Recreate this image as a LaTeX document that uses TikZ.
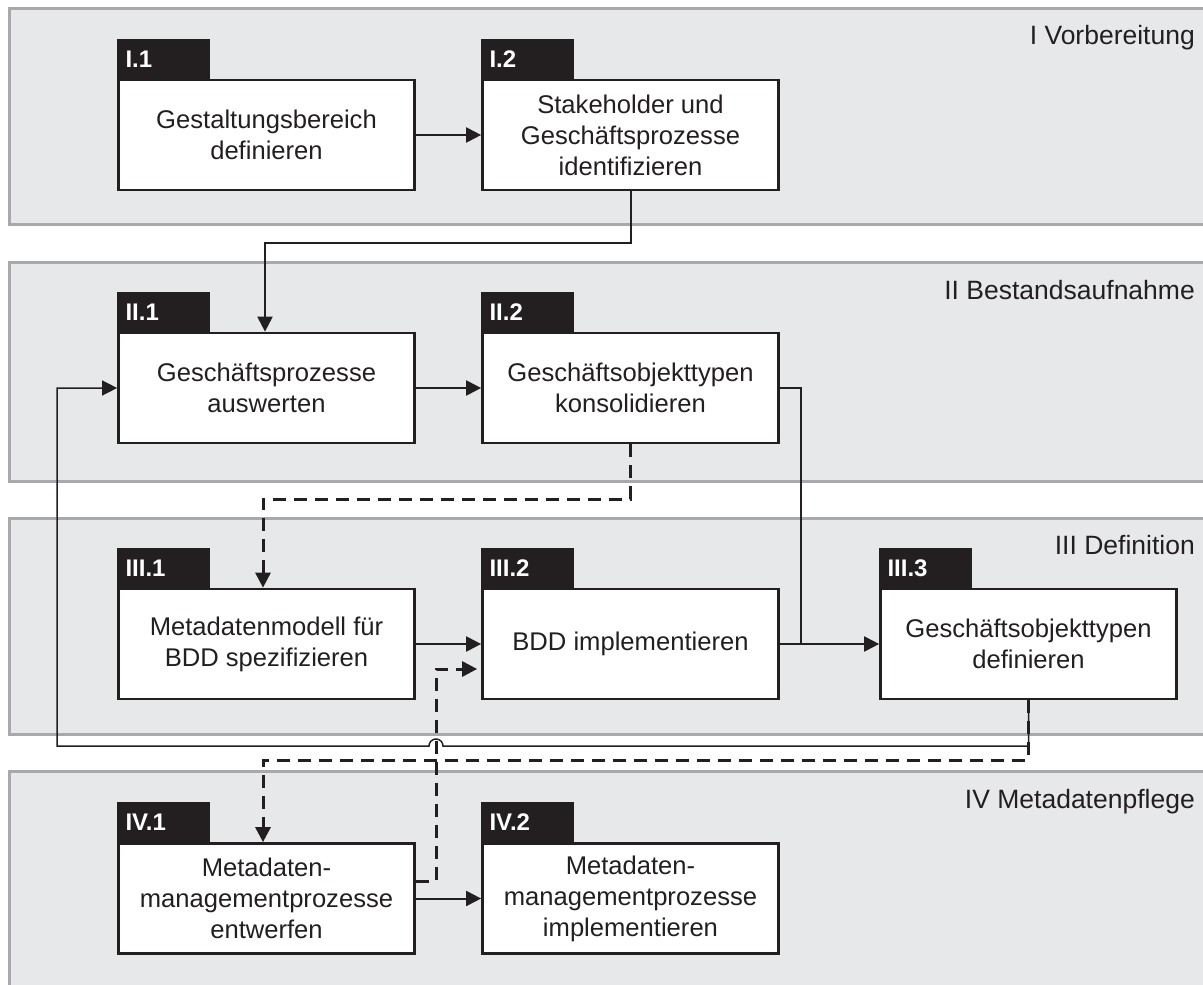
\documentclass[tikz,border=0pt]{standalone}
\usepackage{fontspec}
\setmainfont{Liberation Sans}
\usetikzlibrary{arrows.meta}
\definecolor{ink}{HTML}{231F20}
\definecolor{panelfill}{HTML}{E7E8EA}
\definecolor{panelline}{HTML}{A7A9AC}
\tikzset{
  panel/.style={fill=panelfill},
  panelrim/.style={draw=panelline, line width=3pt},
  phase/.style={anchor=base east, inner sep=0pt, text=ink, font=\fontsize{26.5}{30}\selectfont},
  stepbox/.style={draw=ink, fill=white, line width=2.7pt, minimum width=296pt, minimum height=110pt,
    align=center, text=ink, inner sep=0pt, font=\fontsize{25.6}{31}\selectfont},
  tab/.style={draw=ink, fill=ink, line width=2.7pt, anchor=south west, text width=76pt, align=left,
    minimum height=37pt, inner xsep=7pt, inner ysep=0pt, text=white,
    font=\bfseries\fontsize{24}{26}\selectfont},
  tip/.style={-{Triangle[length=15pt,width=15pt]}},
  flow/.style={draw=ink, line width=2pt, tip},
  thin/.style={draw=ink, line width=1.5pt},
  dashflow/.style={draw=ink, line width=3pt, dash pattern=on 13pt off 8pt, tip}
}
\begin{document}
\begin{tikzpicture}[x=1pt, y=-1pt]
\useasboundingbox (0,0) rectangle (1203,985);
\begin{scope}
\clip (0,0) rectangle (1203,985);
% phase panels
\fill[panel] (9,8) rectangle (1215,224);
\draw[panelrim] (1215,8) -- (9,8) -- (9,224) -- (1215,224);
\fill[panel] (9,262) rectangle (1215,481);
\draw[panelrim] (1215,262) -- (9,262) -- (9,481) -- (1215,481);
\fill[panel] (9,518) rectangle (1215,734);
\draw[panelrim] (1215,518) -- (9,518) -- (9,734) -- (1215,734);
\fill[panel] (9,771) rectangle (1215,995);
\draw[panelrim] (1215,771) -- (9,771) -- (9,995);
\end{scope}
\node[phase] (p1) at (1195,45) {I Vorbereitung};
\node[phase] (p2) at (1195,299) {II Bestandsaufnahme};
\node[phase] (p3) at (1195,554) {III Definition};
\node[phase] (p4) at (1195,808) {IV Metadatenpflege};

% process steps
\node[stepbox] (i1) at (266.5,135) {Gestaltungsbereich\\definieren};
\node[stepbox] (i2) at (630.5,135) {Stakeholder und\\Geschäftsprozesse\\identifizieren};
\node[stepbox] (ii1) at (266.5,388) {Geschäftsprozesse\\auswerten};
\node[stepbox] (ii2) at (630.5,388) {Geschäftsobjekttypen\\konsolidieren};
\node[stepbox] (iii1) at (266.5,644) {Metadatenmodell für\\BDD spezifizieren};
\node[stepbox] (iii2) at (630.5,644) {BDD implementieren};
\node[stepbox] (iii3) at (1028.5,644) {Geschäftsobjekttypen\\definieren};
\node[stepbox] (iv1) at (266.5,898.5) {Metadaten-\\managementprozesse\\entwerfen};
\node[stepbox] (iv2) at (630.5,898.5) {Metadaten-\\managementprozesse\\implementieren};

% number tabs
\node[tab] (t1) at (i1.north west) {I.1};
\node[tab] (t2) at (i2.north west) {I.2};
\node[tab] (t3) at (ii1.north west) {II.1};
\node[tab] (t4) at (ii2.north west) {II.2};
\node[tab] (t5) at (iii1.north west) {III.1};
\node[tab] (t6) at (iii2.north west) {III.2};
\node[tab] (t7) at (iii3.north west) {III.3};
\node[tab] (t8) at (iv1.north west) {IV.1};
\node[tab] (t9) at (iv2.north west) {IV.2};

% routing points
\coordinate (a1) at (630.5,243);
\coordinate (a2) at (265,243);
\coordinate (b1) at (801,388);
\coordinate (b2) at (801,644);
\coordinate (c1) at (1028.5,746);
\coordinate (c2) at (443,746);
\coordinate (c4) at (57,746);
\coordinate (c5) at (57,388);
\coordinate (d1) at (630.5,499);
\coordinate (d2) at (263,499);
\coordinate (e1) at (1028.5,760);
\coordinate (e2) at (263,760);
\coordinate (f1) at (436,881);
\coordinate (f2) at (436,669);

% solid connectors
\draw[flow] (i1) -- (i2);
\draw[flow] (i2.south) -- (a1) -- (a2) -- (a2 |- ii1.north);
\draw[flow] (ii1) -- (ii2);
\draw[thin] (ii2.east) -- (b1) -- (b2);
\draw[flow] (iii1) -- (iii2);
\draw[flow] (iii2) -- (iii3);
\draw[flow] (iv1) -- (iv2);
% feedback loop, hopping over the dashed riser
\draw[thin, tip] (iii3.south) -- (c1) -- (c2) arc[start angle=0, end angle=180, radius=7pt]
  -- (c4) -- (c5) -- (ii1.west);

% dashed connectors
\draw[dashflow] (ii2.south) -- (d1) -- (d2) -- (d2 |- iii1.north);
\draw[dashflow] (iii3.south) -- (e1) -- (e2) -- (e2 |- iv1.north);
\draw[dashflow] (f1 -| iv1.east) -- (f1) -- (f2) -- ([xshift=-4pt]f2 -| iii2.west);
\end{tikzpicture}
\end{document}
